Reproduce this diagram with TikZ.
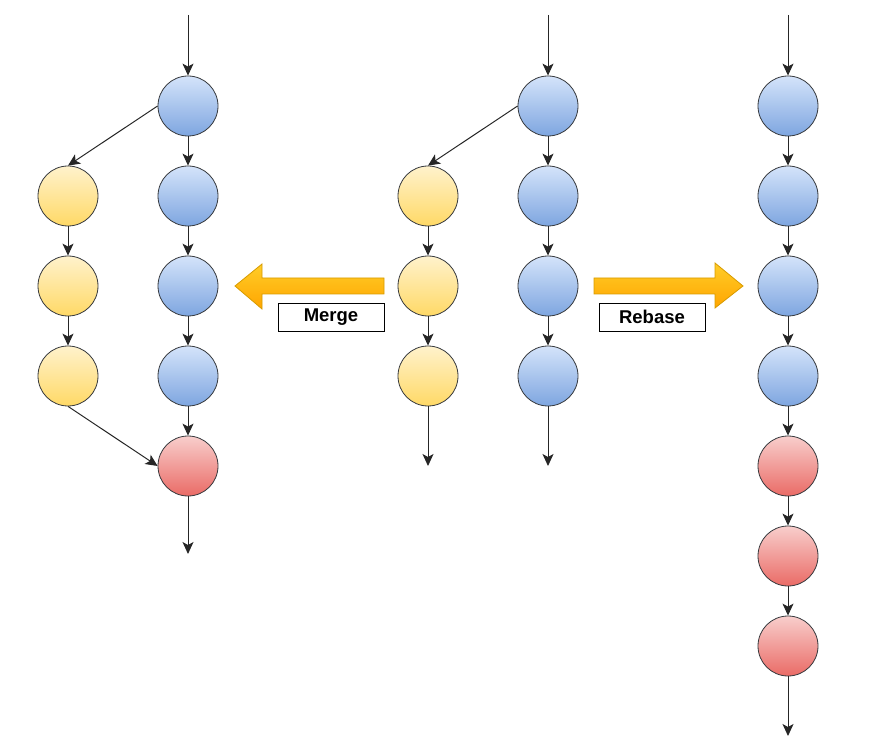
\documentclass[tikz,border=0pt]{standalone}
\usepackage{fontspec}
\setmainfont{Liberation Sans}
\usetikzlibrary{arrows.meta}

\definecolor{blueTop}{HTML}{D4E3FA}
\definecolor{blueBot}{HTML}{7EA6E0}
\definecolor{yellowTop}{HTML}{FFF2CC}
\definecolor{yellowBot}{HTML}{FFD966}
\definecolor{redTop}{HTML}{F8CECC}
\definecolor{redBot}{HTML}{EA6B66}
\definecolor{arrowTop}{HTML}{FFCD28}
\definecolor{arrowBot}{HTML}{FFA500}
\definecolor{arrowLine}{HTML}{D79B00}
\definecolor{ring}{HTML}{36393D}

\tikzset{
    commit/.style={circle, draw=ring, line width=0.8pt, minimum size=60pt, inner sep=0pt},
    bluec/.style={commit, top color=blueTop, bottom color=blueBot},
    yellowc/.style={commit, top color=yellowTop, bottom color=yellowBot},
    redc/.style={commit, top color=redTop, bottom color=redBot},
    link/.style={-{Stealth[length=12pt, width=11pt, inset=3pt]}, line width=1pt, draw=black!85},
    bigarrow/.style={draw=arrowLine, line width=0.8pt, top color=arrowTop, bottom color=arrowBot},
    tag/.style={draw, line width=0.9pt, minimum width=106pt, minimum height=28pt, inner sep=0pt,
        font=\fontsize{18.5}{20}\selectfont\bfseries},
}

\begin{document}
\begin{tikzpicture}[x=1pt, y=-1pt]
    \useasboundingbox (0,0) rectangle (873,751);

    % merge result (left)
    \coordinate (lt) at (188,15);
    \node[bluec] (lb1) at (188,106) {};
    \node[bluec] (lb2) at (188,196) {};
    \node[bluec] (lb3) at (188,286) {};
    \node[bluec] (lb4) at (188,376) {};
    \node[redc] (lm) at (188,466) {};
    \coordinate (le) at (188,554);
    \node[yellowc] (ly1) at (68,196) {};
    \node[yellowc] (ly2) at (68,286) {};
    \node[yellowc] (ly3) at (68,376) {};
    \draw[link] (lt) -- (lb1);
    \draw[link] (lb1) -- (lb2);
    \draw[link] (lb2) -- (lb3);
    \draw[link] (lb3) -- (lb4);
    \draw[link] (lb4) -- (lm);
    \draw[link] (lm) -- (le);
    \draw[link] (lb1.west) -- (ly1.north);
    \draw[link] (ly1) -- (ly2);
    \draw[link] (ly2) -- (ly3);
    \draw[link] (ly3.south) -- (lm.west);

    % starting branches (middle)
    \coordinate (mt) at (548,15);
    \node[bluec] (mb1) at (548,106) {};
    \node[bluec] (mb2) at (548,196) {};
    \node[bluec] (mb3) at (548,286) {};
    \node[bluec] (mb4) at (548,376) {};
    \coordinate (mbe) at (548,466);
    \node[yellowc] (my1) at (428,196) {};
    \node[yellowc] (my2) at (428,286) {};
    \node[yellowc] (my3) at (428,376) {};
    \coordinate (mye) at (428,466);
    \draw[link] (mt) -- (mb1);
    \draw[link] (mb1) -- (mb2);
    \draw[link] (mb2) -- (mb3);
    \draw[link] (mb3) -- (mb4);
    \draw[link] (mb4) -- (mbe);
    \draw[link] (mb1.west) -- (my1.north);
    \draw[link] (my1) -- (my2);
    \draw[link] (my2) -- (my3);
    \draw[link] (my3) -- (mye);

    % rebase result (right)
    \coordinate (rt) at (788,15);
    \node[bluec] (rb1) at (788,106) {};
    \node[bluec] (rb2) at (788,196) {};
    \node[bluec] (rb3) at (788,286) {};
    \node[bluec] (rb4) at (788,376) {};
    \node[redc] (rr1) at (788,466) {};
    \node[redc] (rr2) at (788,556) {};
    \node[redc] (rr3) at (788,646) {};
    \coordinate (re) at (788,736);
    \draw[link] (rt) -- (rb1);
    \draw[link] (rb1) -- (rb2);
    \draw[link] (rb2) -- (rb3);
    \draw[link] (rb3) -- (rb4);
    \draw[link] (rb4) -- (rr1);
    \draw[link] (rr1) -- (rr2);
    \draw[link] (rr2) -- (rr3);
    \draw[link] (rr3) -- (re);

    % big arrows with labels
    \draw[bigarrow] (384,278) -- (262,278) -- (262,264) -- (235,286)
        -- (262,309) -- (262,294) -- (384,294) -- cycle;
    \node[tag] (merge) at (331,317) {Merge};
    \draw[bigarrow] (594,278) -- (715,278) -- (715,263) -- (743,286)
        -- (715,308) -- (715,294) -- (594,294) -- cycle;
    \node[tag] (rebase) at (652,317) {Rebase};
\end{tikzpicture}
\end{document}
